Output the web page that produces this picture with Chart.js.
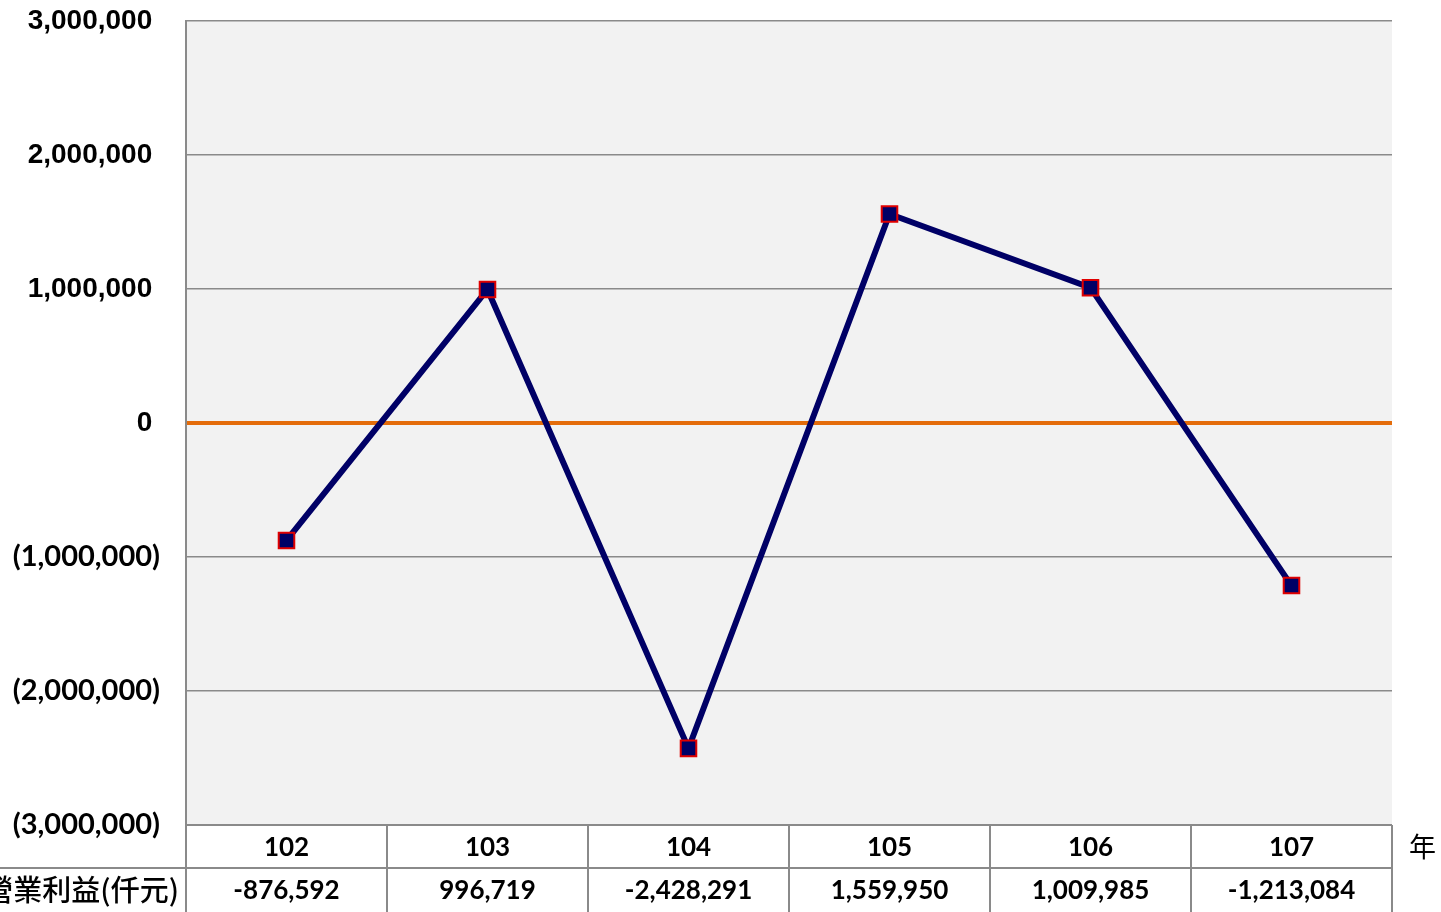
<!DOCTYPE html>
<html>
<head>
<meta charset="utf-8">
<script src="https://cdn.jsdelivr.net/npm/chart.js@4.4.1/dist/chart.umd.min.js"></script>
<style>
    html, body { margin: 0; padding: 0; background: #fff; }
    #wrap { width: 1441px; height: 912px; }
</style>
</head>
<body>
<div id="wrap"><canvas id="profitChart" width="1441" height="912"></canvas></div>
<script>
const years = ["102", "103", "104", "105", "106", "107"];
const profit = [-876592, 996719, -2428291, 1559950, 1009985, -1213084];
const yTicks = [-3000000, -2000000, -1000000, 0, 1000000, 2000000, 3000000];
const rowLabel = "營業利益(仟元)";
const yearUnit = "年";

const gridGray = "#8a8a8a";

function fmtTick(v) {
    const s = Math.abs(v).toLocaleString("en-US");
    // trailing space keeps positives lined up with the closing paren
    return v < 0 ? "(" + s + ")" : s + " ";
}

const plotBackground = {
    id: "plotBackground",
    beforeDraw(chart) {
        const { ctx, chartArea } = chart;
        ctx.save();
        ctx.fillStyle = "#f2f2f2";
        ctx.fillRect(chartArea.left, chartArea.top,
            chartArea.right - chartArea.left, chartArea.bottom - chartArea.top);
        ctx.restore();
    },
};

// data table under the plot, built from the x scale
const dataTable = {
    id: "dataTable",
    afterDraw(chart) {
        const { ctx, chartArea } = chart;
        const xs = chart.scales.x;
        const top = chartArea.bottom;
        const mid = top + 43;
        const bottom = chart.height;
        const colW = (chartArea.right - chartArea.left) / years.length;

        ctx.save();
        ctx.strokeStyle = gridGray;
        ctx.lineWidth = 2;
        ctx.beginPath();
        ctx.moveTo(chartArea.left, top);
        ctx.lineTo(chartArea.right, top);
        ctx.moveTo(0, mid);
        ctx.lineTo(chartArea.right, mid);
        for (let i = 0; i <= years.length; i++) {
            const x = chartArea.left + i * colW;
            ctx.moveTo(x, top);
            ctx.lineTo(x, bottom);
        }
        ctx.stroke();

        ctx.fillStyle = "#000";
        ctx.textAlign = "center";
        ctx.textBaseline = "middle";
        ctx.font = "bold 26px Lato";
        years.forEach((y, i) => {
            const x = xs.getPixelForValue(i);
            ctx.fillText(y, x, (top + mid) / 2 + 1);
            ctx.fillText(profit[i].toLocaleString("en-US"), x, (mid + bottom) / 2 + 1);
        });

        ctx.textAlign = "right";
        ctx.font = "500 29px 'Noto Sans CJK TC'";
        ctx.fillText(rowLabel, chartArea.left - 7, (mid + bottom) / 2);

        ctx.textAlign = "left";
        ctx.font = "27px 'Noto Sans CJK TC'";
        ctx.fillText(yearUnit, chartArea.right + 17, (top + mid) / 2);
        ctx.restore();
    },
};

new Chart(document.getElementById("profitChart").getContext("2d"), {
    type: "line",
    data: {
        labels: years,
        datasets: [
            {
                label: "營業利益",
                data: profit,
                borderColor: "#000066",
                borderWidth: 6,
                pointStyle: "rect",
                pointRadius: 11,
                pointHoverRadius: 11,
                pointBackgroundColor: "#000066",
                pointBorderColor: "#e00000",
                pointBorderWidth: 2,
                tension: 0,
                clip: false,
            },
        ],
    },
    plugins: [plotBackground, dataTable],
    options: {
        responsive: false,
        animation: false,
        layout: { padding: { top: 0, right: 49, bottom: 87, left: 0 } },
        plugins: {
            legend: { display: false },
            tooltip: { enabled: false },
        },
        scales: {
            x: {
                type: "category",
                offset: true,
                display: false,
            },
            y: {
                min: -3000000,
                max: 3000000,
                afterFit(scale) {
                    scale.width = 186;
                    scale.paddingTop = 21;
                    scale.paddingBottom = 0;
                },
                afterBuildTicks(scale) {
                    scale.ticks = yTicks.map((v) => ({ value: v }));
                },
                border: { display: true, color: gridGray, width: 2 },
                grid: {
                    drawTicks: false,
                    color: (c) => (c.tick && c.tick.value === 0 ? "#e46c0a" : gridGray),
                    lineWidth: (c) => (c.tick && c.tick.value === 0 ? 4 : 1.5),
                },
                ticks: {
                    padding: 26,
                    color: "#000",
                    callback: (v) => fmtTick(v),
                    font: (c) =>
                        c.tick && c.tick.value < 0
                            ? { family: "Lato", weight: "bold", size: 29 }
                            : { family: "Liberation Sans", weight: "bold", size: 28 },
                },
            },
        },
    },
});
</script>
</body>
</html>
